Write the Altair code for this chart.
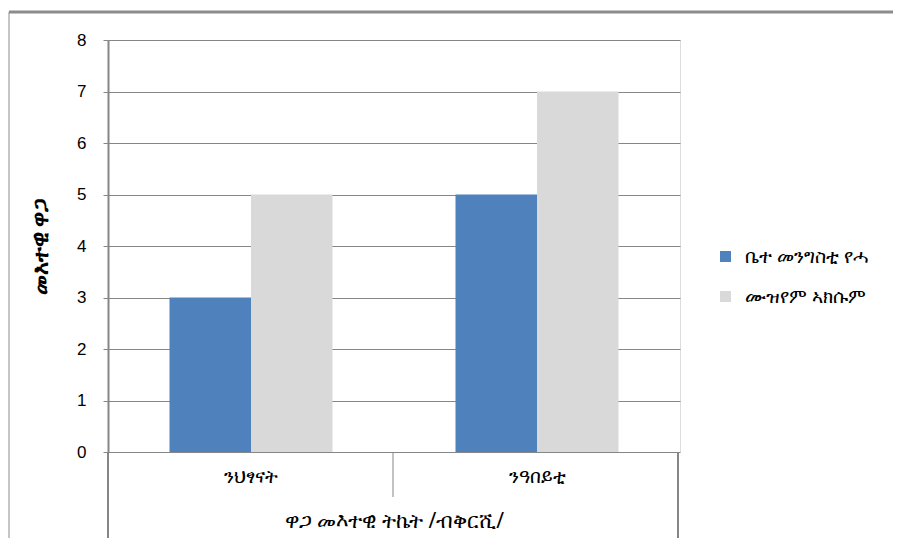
import altair as alt
import pandas as pd

categories = ["ንህፃናት", "ንዓበይቲ"]
series = ["ቤተ መንግስቲ የሓ", "ሙዝየም ኣክሱም"]
values_yeha = [3, 5]
values_axum = [5, 7]
colors = ["#4F81BD", "#D9D9D9"]

rows = []
for i, c in enumerate(categories):
    rows.append({"cat": c, "series": series[0], "val": values_yeha[i], "ord": 0})
    rows.append({"cat": c, "series": series[1], "val": values_axum[i], "ord": 1})
df = pd.DataFrame(rows)

FONT = "Noto Sans"
W, H = 572, 412
GRID = "#868686"

bars = alt.Chart(df).mark_bar().encode(
    x=alt.X("cat:N", sort=categories,
            scale=alt.Scale(paddingInner=0.43, paddingOuter=0.215),
            axis=alt.Axis(title="ዋጋ መእተዊ ትኬት /ብቅርሺ/", labelAngle=0, ticks=False,
                          domain=False, labelPadding=15, labelFontSize=19,
                          titleFontSize=21, titleFontWeight="normal",
                          titlePadding=24, labelColor="#000", titleColor="#000",
                          labelFont=FONT, titleFont=FONT)),
    xOffset=alt.XOffset("series:N", sort=series),
    y=alt.Y("val:Q", scale=alt.Scale(domain=[0, 8]),
            axis=alt.Axis(title="መእተዊ ዋጋ", values=[0, 1, 2, 3, 4, 5, 6, 7, 8],
                          labelOverlap=False,
                          grid=True, gridColor=GRID, gridWidth=1,
                          domainColor=GRID, domainWidth=2,
                          tickColor=GRID, tickSize=5, labelPadding=17,
                          labelFontSize=17, labelColor="#000",
                          titleFontSize=22, titleFontWeight="bold", titleColor="#000",
                          titlePadding=24, labelFont="Liberation Sans", titleFont=FONT)),
    color=alt.Color("series:N", sort=series,
                    scale=alt.Scale(domain=series, range=colors),
                    legend=alt.Legend(title=None, orient="none", legendX=608, legendY=207,
                                      symbolType="square", symbolSize=120,
                                      symbolStrokeWidth=0, rowPadding=20,
                                      labelFontSize=19, labelColor="#000",
                                      labelFont=FONT, labelOffset=10)),
)

line_df = pd.DataFrame({"k": [0]})
base = alt.Chart(line_df)
left_ext = base.mark_rule(color=GRID, strokeWidth=2).encode(
    x=alt.value(0), y=alt.value(H), y2=alt.value(500))
right_ext = base.mark_rule(color=GRID, strokeWidth=2).encode(
    x=alt.value(570), y=alt.value(H), y2=alt.value(500))
mid_sep = base.mark_rule(color=GRID, strokeWidth=1).encode(
    x=alt.value(285), y=alt.value(H), y2=alt.value(457))
frame_top = base.mark_rule(color="#8c8c8c", strokeWidth=3).encode(
    x=alt.value(-99), x2=alt.value(800), y=alt.value(-28))
frame_left = base.mark_rule(color="#8c8c8c", strokeWidth=1).encode(
    x=alt.value(-99), y=alt.value(-28), y2=alt.value(510))

chart = alt.layer(bars, left_ext, right_ext, mid_sep, frame_top, frame_left).properties(
    width=W, height=H,
    padding={"left": 100, "top": 32, "right": 213, "bottom": 86},
    autosize=alt.AutoSizeParams(type="none"),
).configure_view(stroke=None).configure(background="white")

chart.save("out.html", embed_options={"renderer": "svg", "actions": False})
